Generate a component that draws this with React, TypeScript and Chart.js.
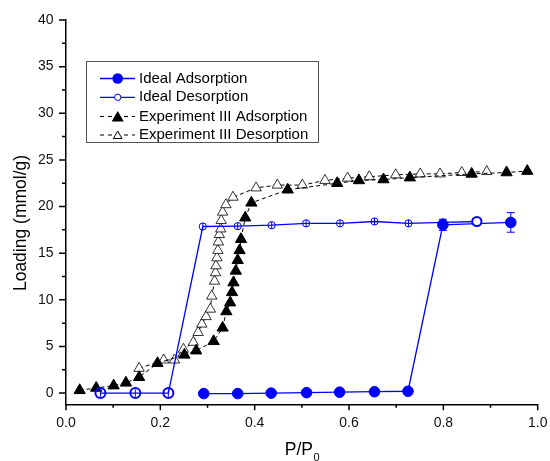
import React, { useEffect, useRef } from 'react';
import { Chart, registerables } from 'chart.js';

Chart.register(...registerables);

const FONT = 'Arial, "Liberation Sans", Helvetica, sans-serif';
const BLUE = '#0000ff';

// Ideal Adsorption
const idealAdsX = [0.292, 0.364, 0.435, 0.51, 0.58, 0.654, 0.725, 0.799, 0.943];
const idealAdsY = [-0.05, -0.05, 0.0, 0.05, 0.1, 0.15, 0.2, 18.04, 18.3];
const idealAdsErr = [0, 0, 0, 0, 0, 0, 0, 0.6, 1.05];

// Ideal Desorption
const idealDesX = [0.073, 0.147, 0.217, 0.29, 0.364, 0.436, 0.509, 0.581, 0.654, 0.726, 0.799, 0.871];
const idealDesY = [0, 0, 0, 17.86, 17.9, 18.0, 18.2, 18.2, 18.4, 18.2, 18.3, 18.4];
const idealDesErr = [0.4, 0.4, 0.4, 0.38, 0.38, 0.38, 0.38, 0.38, 0.38, 0.38, 0.38, 0];

// Experiment III Adsorption
const expAdsX = [0.029, 0.064, 0.101, 0.127, 0.155, 0.194, 0.251, 0.276, 0.313, 0.332, 0.34, 0.348, 0.352, 0.355, 0.36, 0.364, 0.368, 0.371, 0.38, 0.393, 0.47, 0.575, 0.621, 0.673, 0.729, 0.86, 0.934, 0.978];
const expAdsY = [0.3, 0.55, 0.8, 1.1, 1.7, 3.2, 4.1, 4.55, 5.55, 7.0, 8.75, 9.7, 10.8, 11.85, 13.1, 14.25, 15.3, 16.5, 18.8, 20.4, 21.8, 22.5, 22.8, 22.9, 23.1, 23.5, 23.65, 23.8];

// Experiment III Desorption
const expDesX = [0.155, 0.207, 0.23, 0.249, 0.27, 0.28, 0.288, 0.297, 0.306, 0.309, 0.315, 0.317, 0.318, 0.32, 0.322, 0.323, 0.325, 0.328, 0.329, 0.332, 0.339, 0.354, 0.403, 0.448, 0.501, 0.549, 0.597, 0.643, 0.699, 0.751, 0.793, 0.839, 0.892];
const expDesY = [2.65, 3.55, 3.55, 4.7, 5.45, 6.5, 7.4, 8.2, 9.0, 10.4, 12.0, 12.9, 13.65, 14.5, 15.3, 16.2, 17.0, 17.6, 18.5, 19.4, 20.2, 21.0, 22.0, 22.3, 22.3, 22.8, 23.05, 23.2, 23.4, 23.5, 23.5, 23.65, 23.75];

const legendLabels = ['Ideal Adsorption', 'Ideal Desorption', 'Experiment III Adsorption', 'Experiment III Desorption'];
const xTickValues = [0, 0.2, 0.4, 0.6, 0.8, 1.0];
const xMinorTicks = [0.1, 0.3, 0.5, 0.7, 0.9];
const yTickValues = [0, 5, 10, 15, 20, 25, 30, 35, 40];
const yMinorTicks = [2.5, 7.5, 12.5, 17.5, 22.5, 27.5, 32.5, 37.5];
const yTitle = 'Loading (mmol/g)';
const xTitleMain = 'P/P';
const xTitleSub = '0';

const toPts = (xs: number[], ys: number[]) => xs.map((x, i) => ({ x, y: ys[i] }));

function drawTriangle(ctx: CanvasRenderingContext2D, x: number, y: number, r: number) {
  ctx.beginPath();
  let rad = 0;
  for (let i = 0; i < 3; i++) {
    const px = x + Math.sin(rad) * r;
    const py = y - Math.cos(rad) * r;
    if (i === 0) ctx.moveTo(px, py);
    else ctx.lineTo(px, py);
    rad += (Math.PI * 2) / 3;
  }
  ctx.closePath();
}

const ticksPlugin = {
  id: 'customTicks',
  afterDraw(chart: any) {
    const { ctx, chartArea } = chart;
    const xs = chart.scales.x;
    const ys = chart.scales.y;
    ctx.save();
    ctx.strokeStyle = '#000';
    ctx.lineWidth = 1.5;
    ctx.beginPath();
    xTickValues.forEach((v) => {
      const px = xs.getPixelForValue(v);
      ctx.moveTo(px, chartArea.bottom);
      ctx.lineTo(px, chartArea.bottom + 6);
    });
    xMinorTicks.forEach((v) => {
      const px = xs.getPixelForValue(v);
      ctx.moveTo(px, chartArea.bottom);
      ctx.lineTo(px, chartArea.bottom + 3.5);
    });
    yTickValues.forEach((v) => {
      const py = ys.getPixelForValue(v);
      ctx.moveTo(chartArea.left, py);
      ctx.lineTo(chartArea.left - 7, py);
    });
    yMinorTicks.forEach((v) => {
      const py = ys.getPixelForValue(v);
      ctx.moveTo(chartArea.left, py);
      ctx.lineTo(chartArea.left - 4, py);
    });
    ctx.stroke();
    ctx.restore();
  },
};

const errorBarPlugin = {
  id: 'errorBars',
  afterDatasetsDraw(chart: any) {
    const { ctx } = chart;
    const xs = chart.scales.x;
    const ys = chart.scales.y;
    ctx.save();
    chart.data.datasets.forEach((ds: any) => {
      if (!ds.errors) return;
      ctx.strokeStyle = ds.errorColor || BLUE;
      ctx.lineWidth = 1;
      ds.data.forEach((p: any, i: number) => {
        const e = ds.errors[i];
        if (!e) return;
        const px = xs.getPixelForValue(p.x);
        const top = ys.getPixelForValue(p.y + e);
        const bot = ys.getPixelForValue(p.y - e);
        ctx.beginPath();
        ctx.moveTo(px, top);
        ctx.lineTo(px, bot);
        if (ds.errorCap) {
          const c = ds.errorCap / 2;
          ctx.moveTo(px - c, top);
          ctx.lineTo(px + c, top);
          ctx.moveTo(px - c, bot);
          ctx.lineTo(px + c, bot);
        }
        ctx.stroke();
      });
    });
    ctx.restore();
  },
};

const legendPlugin = {
  id: 'boxLegend',
  afterDraw(chart: any) {
    const { ctx } = chart;
    const left = 86;
    const top = 61;
    const w = 232;
    const h = 81;
    ctx.save();
    ctx.strokeStyle = '#555';
    ctx.lineWidth = 1;
    ctx.strokeRect(left + 0.5, top + 0.5, w, h);
    const rows = [78.5, 97.3, 116.5, 135];
    const x1 = 100;
    const x2 = 135;
    const mx = 117.7;
    rows.forEach((ry, i) => {
      ctx.beginPath();
      if (i < 2) {
        ctx.strokeStyle = BLUE;
        ctx.lineWidth = 1.3;
        ctx.setLineDash([]);
      } else {
        ctx.strokeStyle = '#000';
        ctx.lineWidth = 1;
        ctx.setLineDash([4, 4]);
      }
      ctx.moveTo(x1, ry);
      ctx.lineTo(x2, ry);
      ctx.stroke();
      ctx.setLineDash([]);
      if (i === 0) {
        ctx.beginPath();
        ctx.arc(mx, ry, 5.3, 0, Math.PI * 2);
        ctx.fillStyle = BLUE;
        ctx.fill();
      } else if (i === 1) {
        ctx.beginPath();
        ctx.arc(mx, ry, 3.2, 0, Math.PI * 2);
        ctx.fillStyle = '#fff';
        ctx.fill();
        ctx.strokeStyle = BLUE;
        ctx.lineWidth = 1;
        ctx.stroke();
      } else if (i === 2) {
        drawTriangle(ctx, mx, ry + 1.5, 7);
        ctx.fillStyle = '#000';
        ctx.fill();
      } else {
        drawTriangle(ctx, mx, ry + 1, 5);
        ctx.fillStyle = '#fff';
        ctx.fill();
        ctx.strokeStyle = '#000';
        ctx.lineWidth = 1;
        ctx.stroke();
      }
      ctx.fillStyle = '#000';
      ctx.font = `15px ${FONT}`;
      ctx.textAlign = 'left';
      ctx.textBaseline = 'middle';
      ctx.fillText(legendLabels[i], 139, ry);
    });
    ctx.restore();
  },
};

const titlePlugin = {
  id: 'axisTitles',
  afterDraw(chart: any) {
    const { ctx } = chart;
    ctx.save();
    ctx.fillStyle = '#000';
    ctx.font = `17.5px ${FONT}`;
    ctx.textAlign = 'center';
    ctx.textBaseline = 'middle';
    ctx.translate(21.5, 223);
    ctx.rotate(-Math.PI / 2);
    ctx.fillText(yTitle, 0, 0);
    ctx.restore();

    ctx.save();
    ctx.fillStyle = '#000';
    ctx.font = `17.5px ${FONT}`;
    ctx.textAlign = 'left';
    ctx.textBaseline = 'alphabetic';
    const mainW = ctx.measureText(xTitleMain).width;
    const subFont = `11px ${FONT}`;
    ctx.font = subFont;
    const subW = ctx.measureText(xTitleSub).width;
    const startX = 302 - (mainW + subW) / 2;
    ctx.font = `17.5px ${FONT}`;
    ctx.fillText(xTitleMain, startX, 455);
    ctx.font = subFont;
    ctx.fillText(xTitleSub, startX + mainW + 0.5, 460.5);
    ctx.restore();
  },
};

export default function App() {
  const canvasRef = useRef<HTMLCanvasElement | null>(null);

  useEffect(() => {
    const canvas = canvasRef.current;
    if (!canvas) return;
    const chart = new Chart(canvas, {
      type: 'scatter',
      data: {
        datasets: [
          {
            label: legendLabels[1],
            data: toPts(idealDesX, idealDesY),
            showLine: true,
            borderColor: BLUE,
            borderWidth: 1.3,
            tension: 0,
            pointStyle: 'circle',
            pointRadius: idealDesX.map((_, i) => (i < 3 ? 5 : i === idealDesX.length - 1 ? 4.6 : 3.6)),
            pointBorderWidth: idealDesX.map((_, i) => (i < 3 || i === idealDesX.length - 1 ? 2 : 1)),
            pointBackgroundColor: idealDesX.map((_, i) => (i === idealDesX.length - 1 ? '#fff' : 'rgba(0,0,0,0)')),
            pointBorderColor: BLUE,
            order: 1,
            errors: idealDesErr,
            errorCap: 0,
          } as any,
          {
            label: legendLabels[0],
            data: toPts(idealAdsX, idealAdsY),
            showLine: true,
            borderColor: BLUE,
            borderWidth: 1.3,
            tension: 0,
            pointStyle: 'circle',
            pointRadius: 5.3,
            pointBorderWidth: 1,
            pointBackgroundColor: BLUE,
            pointBorderColor: BLUE,
            order: 2,
            errors: idealAdsErr,
            errorCap: 8,
          } as any,
          {
            label: legendLabels[2],
            data: toPts(expAdsX, expAdsY),
            showLine: true,
            borderColor: '#000',
            borderWidth: 1,
            borderDash: [4, 3],
            tension: 0,
            pointStyle: 'triangle',
            pointRadius: 6.5,
            pointBorderWidth: 1,
            pointBackgroundColor: '#000',
            pointBorderColor: '#000',
            order: 3,
          },
          {
            label: legendLabels[3],
            data: toPts(expDesX, expDesY),
            showLine: true,
            borderColor: '#000',
            borderWidth: 1,
            borderDash: [4, 3],
            tension: 0,
            pointStyle: 'triangle',
            pointRadius: 6,
            pointBorderWidth: 0.8,
            pointBackgroundColor: '#fff',
            pointBorderColor: '#000',
            order: 4,
          },
        ],
      },
      options: {
        responsive: false,
        animation: false,
        devicePixelRatio: 1,
        layout: { padding: { top: 20, right: 12.3, left: 0, bottom: 0 } },
        plugins: {
          legend: { display: false },
          tooltip: { enabled: false },
          title: { display: false },
        },
        scales: {
          x: {
            type: 'linear',
            position: 'bottom',
            min: 0,
            max: 1,
            grid: { display: true, drawOnChartArea: false, drawTicks: false },
            border: { display: true, color: '#000', width: 1.5 },
            ticks: {
              color: '#111',
              padding: 10,
              maxRotation: 0,
              autoSkip: false,
              font: { size: 14, family: FONT },
              callback: (v: any) => Number(v).toFixed(1),
            },
            afterBuildTicks: (s: any) => {
              s.ticks = xTickValues.map((v) => ({ value: v }));
            },
            afterFit: (s: any) => {
              s.height = 56.7;
              s.paddingLeft = 0;
              s.paddingRight = 0;
            },
          },
          y: {
            type: 'linear',
            min: -1.2,
            max: 40,
            grid: { display: true, drawOnChartArea: false, drawTicks: false },
            border: { display: true, color: '#000', width: 1.5 },
            ticks: {
              color: '#111',
              padding: 12.5,
              font: { size: 14, family: FONT },
              callback: (v: any) => String(v),
            },
            afterBuildTicks: (s: any) => {
              s.ticks = yTickValues.map((v) => ({ value: v }));
            },
            afterFit: (s: any) => {
              s.width = 66;
              s.paddingTop = 0;
              s.paddingBottom = 0;
            },
          },
        },
      } as any,
      plugins: [ticksPlugin, errorBarPlugin, legendPlugin, titlePlugin],
    });
    return () => chart.destroy();
  }, []);

  return (
    <div style={{ position: 'absolute', left: 0, top: 0, width: 550, height: 461, background: '#fff' }}>
      <canvas ref={canvasRef} width={550} height={461} style={{ width: 550, height: 461, display: 'block' }} />
    </div>
  );
}
